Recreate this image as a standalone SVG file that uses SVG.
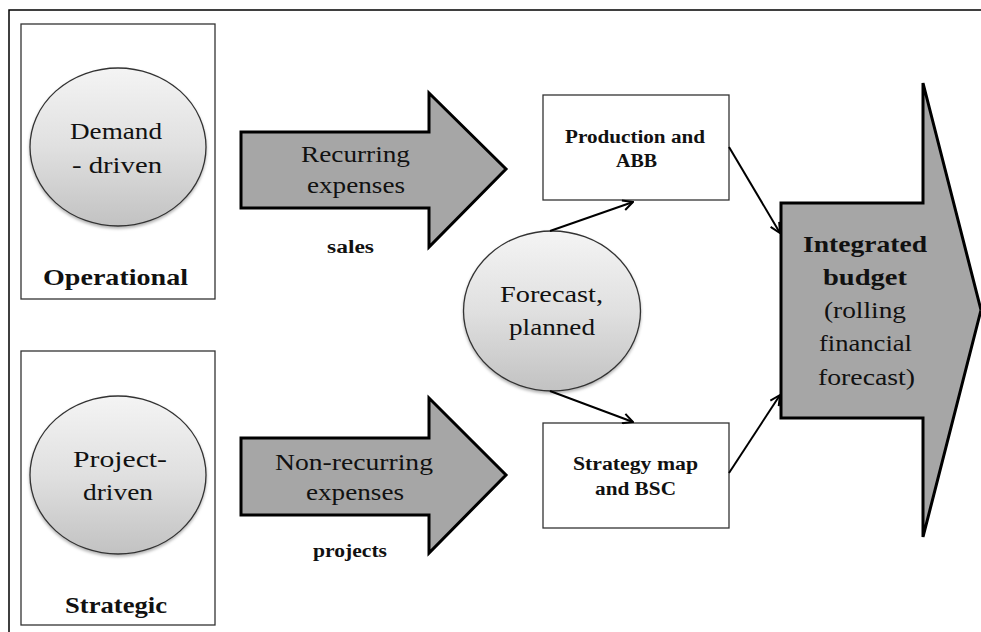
<svg xmlns="http://www.w3.org/2000/svg" width="981" height="632" viewBox="0 0 981 632">
<defs>
<linearGradient id="gEll" x1="0" y1="0" x2="0" y2="1">
<stop offset="0" stop-color="#f4f4f4"/>
<stop offset="0.5" stop-color="#e0e0e0"/>
<stop offset="1" stop-color="#c2c2c2"/>
</linearGradient>
<filter id="sh" x="-10%" y="-10%" width="120%" height="125%">
<feDropShadow dx="0" dy="2" stdDeviation="1.5" flood-color="#000" flood-opacity="0.3"/>
</filter>
<marker id="arr" viewBox="0 0 12 12" refX="11" refY="6" markerWidth="12" markerHeight="12" markerUnits="userSpaceOnUse" orient="auto">
<path d="M1,1 L11,6 L1,11" fill="none" stroke="#000" stroke-width="2"/>
</marker>
</defs>
<style>
.box{fill:#fff;stroke:#333;stroke-width:1.3}
.ell{fill:url(#gEll);stroke:#333;stroke-width:1.3;filter:url(#sh)}
.big{fill:#a6a6a6;stroke:#000;stroke-width:3;stroke-linejoin:miter}
.con{fill:none;stroke:#000;stroke-width:2;marker-end:url(#arr)}
text{font-family:'Liberation Serif','Times New Roman',Tinos,Times,serif;fill:#111;text-anchor:middle}
.t{font-size:23px}
.b{font-weight:bold}
.s{font-size:18px}
.m{font-size:23px}
</style>
<rect x="9" y="10" width="980" height="632" fill="#fff" stroke="#000" stroke-width="1.5"/>

<g id="operational" font-family="Liberation Serif, serif">
<rect class="box" x="21" y="24" width="194" height="275"/>
<ellipse class="ell" cx="118" cy="147" rx="88" ry="79"/>
<text class="t" x="116" y="139" textLength="92" lengthAdjust="spacingAndGlyphs">Demand</text>
<text class="t" x="117" y="173" textLength="90" lengthAdjust="spacingAndGlyphs">- driven</text>
<text class="b m" x="115.5" y="285" textLength="145" lengthAdjust="spacingAndGlyphs">Operational</text>
</g>

<g id="strategic">
<rect class="box" x="21" y="351" width="194" height="274"/>
<ellipse class="ell" cx="118" cy="475" rx="88" ry="79"/>
<text class="t" x="120" y="467" textLength="94" lengthAdjust="spacingAndGlyphs">Project-</text>
<text class="t" x="118" y="500" textLength="70" lengthAdjust="spacingAndGlyphs">driven</text>
<text class="b m" x="116" y="613" textLength="102" lengthAdjust="spacingAndGlyphs">Strategic</text>
</g>

<g id="recurring">
<polygon class="big" points="241,132 429,132 429,93 506,169 429,247 429,208 241,208"/>
<text class="t" x="355.5" y="162" textLength="109" lengthAdjust="spacingAndGlyphs">Recurring</text>
<text class="t" x="356" y="193" textLength="98" lengthAdjust="spacingAndGlyphs">expenses</text>
<text class="b s" x="350.5" y="253" textLength="47" lengthAdjust="spacingAndGlyphs">sales</text>
</g>

<g id="nonrecurring">
<polygon class="big" points="241,438 429,438 429,398 506,475 429,553 429,515 241,515"/>
<text class="t" x="354" y="470" textLength="158" lengthAdjust="spacingAndGlyphs">Non-recurring</text>
<text class="t" x="355" y="500" textLength="98" lengthAdjust="spacingAndGlyphs">expenses</text>
<text class="b s" x="350" y="557" textLength="74" lengthAdjust="spacingAndGlyphs">projects</text>
</g>

<g id="production">
<rect class="box" x="543" y="95" width="186" height="105"/>
<text class="b s" x="635" y="143" textLength="140" lengthAdjust="spacingAndGlyphs">Production and</text>
<text class="b s" x="636.5" y="167" textLength="41" lengthAdjust="spacingAndGlyphs">ABB</text>
</g>

<g id="strategymap">
<rect class="box" x="543" y="423" width="186" height="105"/>
<text class="b s" x="635.5" y="470" textLength="125" lengthAdjust="spacingAndGlyphs">Strategy map</text>
<text class="b s" x="635.5" y="495" textLength="81" lengthAdjust="spacingAndGlyphs">and BSC</text>
</g>

<g id="forecast">
<ellipse class="ell" cx="552" cy="311" rx="88.5" ry="80"/>
<text class="t" x="551.5" y="302" textLength="103" lengthAdjust="spacingAndGlyphs">Forecast,</text>
<text class="t" x="552" y="335" textLength="86" lengthAdjust="spacingAndGlyphs">planned</text>
</g>

<g id="integrated">
<polygon class="big" points="781,203 923,203 923,83 981,310 923,537 923,418 781,418"/>
<text class="b m" x="865" y="252" textLength="124" lengthAdjust="spacingAndGlyphs">Integrated</text>
<text class="b m" x="865" y="285" textLength="84" lengthAdjust="spacingAndGlyphs">budget</text>
<text class="t" x="865" y="318" textLength="82" lengthAdjust="spacingAndGlyphs">(rolling</text>
<text class="t" x="865.5" y="351" textLength="93" lengthAdjust="spacingAndGlyphs">financial</text>
<text class="t" x="866.5" y="385" textLength="97" lengthAdjust="spacingAndGlyphs">forecast)</text>
</g>

<g id="connectors">
<line class="con" x1="550" y1="231" x2="633" y2="202"/>
<line class="con" x1="550" y1="391" x2="633" y2="422"/>
<line class="con" x1="729" y1="147" x2="780" y2="233"/>
<line class="con" x1="729" y1="473" x2="780" y2="395"/>
</g>
</svg>
